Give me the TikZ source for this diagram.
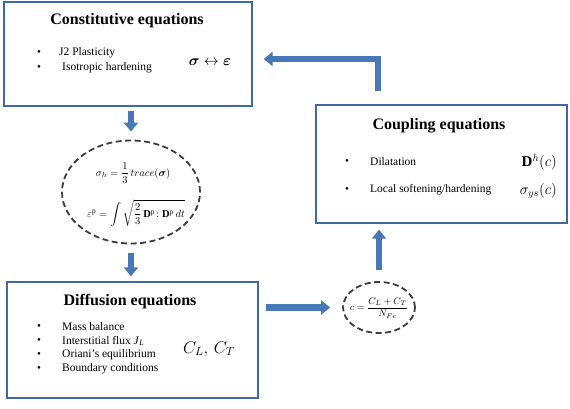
\RequirePackage{fix-cm}
\documentclass[tikz,border=0pt]{standalone}
\usepackage{amsmath,bm}
\usepackage{fontspec}
\setmainfont{Liberation Serif}
\usetikzlibrary{arrows.meta,shapes.geometric}
\definecolor{boxblue}{RGB}{65,105,160}
\definecolor{arrowfill}{RGB}{72,120,182}
\definecolor{dashgray}{RGB}{60,60,60}
\tikzset{
  box/.style={draw=boxblue, line width=1.3pt, fill=white, inner sep=0pt},
  title/.style={font=\fontsize{16}{19}\selectfont\bfseries, inner sep=0pt},
  item/.style={font=\fontsize{11.5}{14}\selectfont, anchor=west, inner sep=0pt},
  dot/.style={font=\fontsize{11}{12}\selectfont, inner sep=0pt},
  bigmath/.style={font=\fontsize{17}{20}\selectfont, inner sep=0pt},
  eqtext/.style={font=\fontsize{10.5}{13}\selectfont, inner sep=0pt},
  flow/.style={line width=6.5pt, color=arrowfill, line join=miter,
    -{Triangle[width=14pt,length=9pt]}},
  eqell/.style={ellipse, draw=dashgray, line width=1.8pt,
    dash pattern=on 6pt off 3.5pt, inner sep=0pt}
}
\begin{document}
\begin{tikzpicture}[x=1pt,y=-1pt]
\useasboundingbox (0,0) rectangle (570,408);
% Constitutive box
\node[box, minimum width=248pt, minimum height=104pt] (const) at (128,54) {};
\node[title] (ctitle) at (127,21) {Constitutive equations};
\node[dot] (cd1) at (39,53) {\textbullet};
\node[dot] (cd2) at (39,68) {\textbullet};
\node[item] (ci1) at (59,53) {J2 Plasticity};
\node[item] (ci2) at (62,68) {Isotropic hardening};
\node[font=\fontsize{15}{18}\selectfont, inner sep=0pt] (cmath) at (210,62) {$\bm{\sigma}\leftrightarrow\bm{\varepsilon}$};
% Ellipse 1
\node[eqell, minimum width=138pt, minimum height=103pt] (ell1) at (131,192) {};
\node[eqtext] (eq1) at (133,173) {$\sigma_h=\dfrac{1}{3}\,trace(\bm{\sigma})$};
\node[eqtext] (eq2) at (136,213) {$\varepsilon^{\mathrm{p}}=\displaystyle\int\sqrt{\frac{2}{3}\,\mathbf{D}^{\mathrm{p}}\!:\mathbf{D}^{\mathrm{p}}\,dt}$};
% Diffusion box
\node[box, minimum width=251pt, minimum height=116pt] (diff) at (132.5,340) {};
\node[title] (dtitle) at (130,302) {Diffusion equations};
\node[dot] (dd1) at (39,327) {\textbullet};
\node[dot] (dd2) at (39,341) {\textbullet};
\node[dot] (dd3) at (39,355) {\textbullet};
\node[dot] (dd4) at (39,369) {\textbullet};
\node[item] (di1) at (62,327) {Mass balance};
\node[item] (di2) at (62,341) {Interstitial flux \textit{J}\textsubscript{\textit{L}}};
\node[item] (di3) at (62,355) {Oriani’s equilibrium};
\node[item] (di4) at (62,369) {Boundary conditions};
\node[bigmath] (dmath) at (209,349) {$C_L,\,C_T$};
% Ellipse 2
\node[eqell, minimum width=72pt, minimum height=51pt] (ell2) at (379,307.5) {};
\node[font=\fontsize{9.5}{11}\selectfont, inner sep=0pt] (eq3) at (379,308) {$c=\dfrac{C_L+C_T}{N_{Fe}}$};
% Coupling box
\node[box, minimum width=251pt, minimum height=118pt] (coup) at (441.5,164) {};
\node[title] (ptitle) at (439,126) {Coupling equations};
\node[dot] (pd1) at (347,162) {\textbullet};
\node[dot] (pd2) at (347,190) {\textbullet};
\node[item] (pi1) at (370,162) {Dilatation};
\node[item] (pi2) at (370,190) {Local softening/hardening};
\node[font=\fontsize{15}{18}\selectfont, inner sep=0pt, anchor=east] (pm1) at (557,162) {$\mathbf{D}^h(c)$};
\node[font=\fontsize{15}{18}\selectfont, inner sep=0pt, anchor=east] (pm2) at (557,191) {$\sigma_{ys}(c)$};
% connectors
\coordinate (bend) at (378,59);
\draw[flow, shorten <=4pt, shorten >=8pt] (const.south -| ell1.north) -- (ell1.north);
\draw[flow, shorten <=9pt, shorten >=5pt] (ell1.south) -- (ell1.south |- diff.north);
\draw[flow, shorten <=7pt, shorten >=12pt] (diff.east |- ell2.west) -- (ell2.west);
\draw[flow, shorten <=11pt, shorten >=6pt] (ell2.north) -- (ell2.north |- coup.south);
\draw[flow, shorten <=13pt, shorten >=11pt] (coup.north -| bend) -- (bend) -- (const.east |- bend);
\end{tikzpicture}
\end{document}
